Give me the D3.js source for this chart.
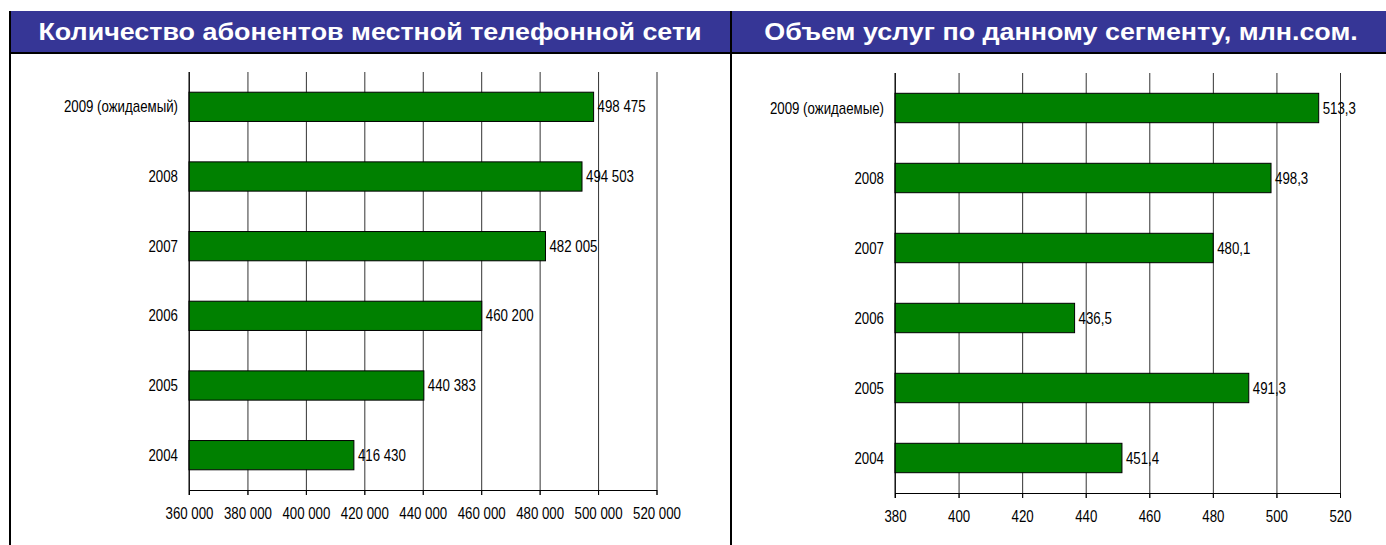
<!DOCTYPE html>
<html>
<head>
<meta charset="utf-8">
<script src="https://cdn.jsdelivr.net/npm/d3@7"></script>
<style>
  body { margin: 0; background: #fff; }
  svg text { font-family: "Liberation Sans", Arial, sans-serif; }
  .title { font-weight: bold; }
</style>
</head>
<body>
<div id="chart"></div>
<script>
// Data
const subsCategories = ["2009 (ожидаемый)", "2008", "2007", "2006", "2005", "2004"];
const subsValues = [498475, 494503, 482005, 460200, 440383, 416430];
const subsTicks = [360000, 380000, 400000, 420000, 440000, 460000, 480000, 500000, 520000];

const volCategories = ["2009 (ожидаемые)", "2008", "2007", "2006", "2005", "2004"];
const volValues = [513.3, 498.3, 480.1, 436.5, 491.3, 451.4];
const volTicks = [380, 400, 420, 440, 460, 480, 500, 520];

const leftTitle = "Количество абонентов местной телефонной сети";
const rightTitle = "Объем услуг по данному сегменту, млн.сом.";

const W = 1386, H = 545;
const narrow = 0.83;   // small text in the original is condensed
const ru = d3.formatLocale({ decimal: ",", thousands: "\u00a0", grouping: [3], currency: ["", ""] });

const svg = d3.select("#chart").append("svg")
  .attr("width", W)
  .attr("height", H);

// Header band
svg.append("rect")
  .attr("x", 10).attr("y", 11)
  .attr("width", W - 10).attr("height", 41)
  .attr("fill", "#363696");
svg.append("line")
  .attr("x1", 9).attr("x2", W).attr("y1", 53).attr("y2", 53)
  .attr("stroke", "#000").attr("stroke-width", 2);
// left border and divider
svg.append("line")
  .attr("x1", 10).attr("x2", 10).attr("y1", 11).attr("y2", H)
  .attr("stroke", "#000").attr("stroke-width", 2);
svg.append("line")
  .attr("x1", 731).attr("x2", 731).attr("y1", 11).attr("y2", H)
  .attr("stroke", "#000").attr("stroke-width", 2);

function title(txt, cx) {
  svg.append("text").attr("class", "title")
    .attr("transform", `translate(${cx},40) scale(1.12,1)`)
    .attr("text-anchor", "middle")
    .attr("font-size", "24px")
    .attr("fill", "#fff")
    .text(txt);
}
title(leftTitle, 370);
title(rightTitle, 1061);

function drawBars(opts) {
  const { categories, values, ticks, x0, x1, yTop, yBottom, tickFmt, valFmt } = opts;

  const x = d3.scaleLinear()
    .domain([ticks[0], ticks[ticks.length - 1]])
    .range([x0, x1]);

  const y = d3.scaleBand()
    .domain(categories)
    .range([yTop, yBottom])
    .paddingInner(0.58)
    .paddingOuter(0.29);

  const g = svg.append("g");

  // gridlines (extend a little below the axis like tick marks)
  g.append("g")
    .attr("transform", `translate(0,${yBottom + 5})`)
    .call(d3.axisBottom(x).tickValues(ticks).tickSize(-(yBottom - yTop + 5)).tickFormat(""))
    .call(a => a.select(".domain").remove())
    .call(a => a.selectAll("line").attr("stroke", "#333"));

  // bars
  g.selectAll(".bar")
    .data(values)
    .enter()
    .append("rect")
      .attr("class", "bar")
      .attr("x", x0)
      .attr("y", (d, i) => y(categories[i]))
      .attr("width", d => x(d) - x0)
      .attr("height", y.bandwidth())
      .attr("fill", "#008000")
      .attr("stroke", "#000")
      .attr("stroke-width", 1);

  // value labels
  g.selectAll(".val")
    .data(values)
    .enter()
    .append("text")
      .attr("class", "val")
      .attr("transform", (d, i) => `translate(${x(d) + 4},${y(categories[i]) + y.bandwidth() / 2}) scale(${narrow},1)`)
      .attr("dy", "0.35em")
      .attr("font-size", "16px")
      .attr("fill", "#000")
      .text(d => valFmt(d));

  // category labels
  g.selectAll(".cat")
    .data(categories)
    .enter()
    .append("text")
      .attr("class", "cat")
      .attr("transform", d => `translate(${x0 - 11},${y(d) + y.bandwidth() / 2}) scale(${narrow},1)`)
      .attr("dy", "0.35em")
      .attr("text-anchor", "end")
      .attr("font-size", "16px")
      .attr("fill", "#000")
      .text(d => d);

  // bottom axis
  g.append("g")
    .attr("transform", `translate(0,${yBottom})`)
    .call(d3.axisBottom(x).tickValues(ticks).tickSize(5).tickSizeOuter(0).tickPadding(13).tickFormat(tickFmt))
    .call(a => a.selectAll("text")
      .attr("font-size", "16px")
      .attr("font-family", null)
      .attr("fill", "#000")
      .attr("transform", `scale(${narrow},1)`))
    .call(a => a.select(".domain").attr("stroke", "#000"));

  // left axis line
  g.append("line")
    .attr("x1", x0).attr("x2", x0)
    .attr("y1", yTop).attr("y2", yBottom + 5)
    .attr("stroke", "#000");
}

drawBars({
  categories: subsCategories,
  values: subsValues,
  ticks: subsTicks,
  x0: 189, x1: 656.5, yTop: 72, yBottom: 490,
  tickFmt: ru.format(",d"),
  valFmt: ru.format(",d")
});

drawBars({
  categories: volCategories,
  values: volValues,
  ticks: volTicks,
  x0: 895, x1: 1340, yTop: 73, yBottom: 493,
  tickFmt: d3.format("d"),
  valFmt: ru.format(".1f")
});
</script>
</body>
</html>
